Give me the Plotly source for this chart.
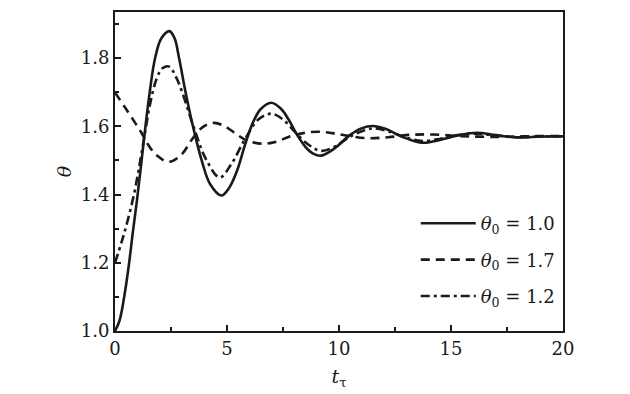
import plotly.graph_objects as go

# theta0 = 1.0 (solid)
t_a = [0, 0.2, 0.39, 0.61, 0.79, 0.98, 1.17, 1.36, 1.55, 1.79, 2.07, 2.43, 2.66, 2.86, 3.15, 3.48, 3.87,
       4.25, 4.75, 5.1, 5.45, 5.8, 6.15, 6.5, 6.97, 7.4, 7.75, 8.1, 8.5, 8.85, 9.2, 9.8, 10.5, 11.0, 11.5,
       12.1, 12.8, 13.69, 14.5, 15.3, 16.15, 17.0, 18.0, 19.0, 20.0]
th_a = [1.0, 1.03, 1.092, 1.189, 1.286, 1.383, 1.49, 1.60, 1.70, 1.80, 1.858, 1.879, 1.858, 1.80, 1.70, 1.60, 1.50,
        1.43, 1.397, 1.42, 1.47, 1.545, 1.61, 1.65, 1.669, 1.652, 1.62, 1.578, 1.54, 1.52, 1.514, 1.535, 1.575, 1.594, 1.601,
        1.592, 1.57, 1.552, 1.56, 1.573, 1.581, 1.574, 1.567, 1.570, 1.571]

# theta0 = 1.7 (dashed)
t_b = [0, 0.45, 0.9, 1.19, 1.49, 1.86, 2.4, 2.98, 3.42, 3.9, 4.42, 4.9, 5.4, 5.9, 6.6, 7.2, 7.8,
       8.4, 9.05, 9.7, 10.4, 11.3, 12.2, 13.2, 14.2, 15.5, 17.0, 18.5, 20.0]
th_b = [1.699, 1.655, 1.61, 1.58, 1.545, 1.515, 1.496, 1.518, 1.56, 1.597, 1.61, 1.60, 1.578, 1.558, 1.549, 1.555, 1.57,
        1.58, 1.584, 1.58, 1.572, 1.565, 1.568, 1.575, 1.576, 1.571, 1.569, 1.571, 1.571]

# theta0 = 1.2 (dash-dot)
t_c = [0, 0.3, 0.55, 0.83, 1.05, 1.3, 1.55, 1.86, 2.12, 2.42, 2.72, 3.0, 3.5, 4.09, 4.68, 5.2, 5.8, 6.4, 6.97, 7.5,
       8.04, 8.6, 9.2, 9.8, 10.5, 11.2, 11.6, 12.3, 13.0, 13.7, 14.5, 15.3, 16.0, 17.0, 18.0, 19.0, 20.0]
th_c = [1.2, 1.262, 1.32, 1.395, 1.47, 1.565, 1.66, 1.74, 1.77, 1.775, 1.745, 1.70, 1.60, 1.50, 1.45, 1.49, 1.562, 1.62, 1.637, 1.62,
        1.583, 1.548, 1.528, 1.54, 1.57, 1.59, 1.594, 1.583, 1.567, 1.557, 1.563, 1.574, 1.578, 1.573, 1.568, 1.570, 1.571]

names = ["<i>θ</i><sub>0</sub> = 1.0", "<i>θ</i><sub>0</sub> = 1.7", "<i>θ</i><sub>0</sub> = 1.2"]
x_ticks = [0, 5, 10, 15, 20]
y_ticks = [1.0, 1.2, 1.4, 1.6, 1.8]

FONT = "DejaVu Serif"
col = "#1a1a1a"

fig = go.Figure()
for i, (t, th, dash) in enumerate([(t_a, th_a, "solid"), (t_b, th_b, "9px,6px"), (t_c, th_c, "9px,4px,3px,4px")]):
    fig.add_trace(go.Scatter(x=t, y=th, mode="lines", name=names[i], legendgroup=str(i),
                             line=dict(color=col, width=2.6, dash=dash, shape="spline", smoothing=1.0)))

axis_common = dict(showline=True, linecolor=col, linewidth=2, mirror=True, ticks="inside",
                   ticklen=6, tickwidth=2, tickcolor=col, showgrid=False, zeroline=False,
                   tickfont=dict(family=FONT, size=18, color=col))

fig.update_xaxes(range=[0, 20], tickvals=x_ticks, ticktext=[str(v) for v in x_ticks],
                 minor=dict(ticks="inside", ticklen=4, tickwidth=2, tickcolor=col, dtick=2.5, tick0=0),
                 title=dict(text="<i>t</i><sub>τ</sub>", font=dict(family=FONT, size=19, color=col), standoff=12),
                 **axis_common)
fig.update_yaxes(range=[1.0, 1.935], tickvals=y_ticks, ticktext=[f"{v:.1f}" for v in y_ticks],
                 minor=dict(ticks="inside", ticklen=4, tickwidth=2, tickcolor=col, dtick=0.1, tick0=1.0),
                 title=dict(text="<i>θ</i>", font=dict(family=FONT, size=19, color=col), standoff=4),
                 **axis_common)

fig.update_layout(width=630, height=394, margin=dict(l=115, r=67, t=10, b=62),
                  plot_bgcolor="white", paper_bgcolor="white",
                  legend=dict(x=0.995, y=0.395, xanchor="right", yanchor="top", bgcolor="rgba(0,0,0,0)",
                              font=dict(family=FONT, size=18, color=col), tracegroupgap=10, itemwidth=55),
                  showlegend=True)

fig.write_html("out.html", config={"displayModeBar": False},
               post_script="document.body.style.margin='0';")
